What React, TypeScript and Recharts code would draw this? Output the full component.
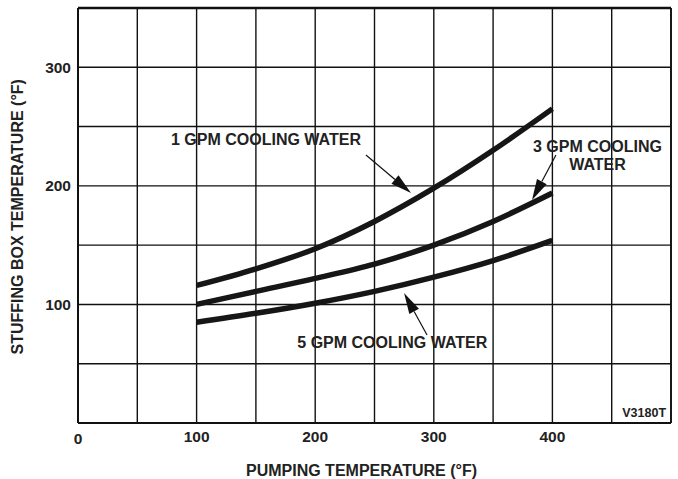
import React from 'react';
import { CartesianGrid, Line, LineChart, ReferenceDot, ReferenceLine, XAxis, YAxis } from 'recharts';

const pumpTemps = [100, 150, 200, 250, 300, 350, 400];
const gpm1 = [116, 130, 147, 170, 198, 230, 265];
const gpm3 = [100, 111, 122, 134, 150, 170, 194];
const gpm5 = [85, 92.5, 101, 111, 123, 137, 154];

const xTicks = [0, 50, 100, 150, 200, 250, 300, 350, 400, 450, 500];
const yTicks = [0, 50, 100, 150, 200, 250, 300, 350];
const xLabels = [0, 100, 200, 300, 400];
const yLabels = [100, 200, 300];

// annotation text anchors and arrows, in data units
const notes = [
  { x: 158.5, y: 238.7, lines: ['1 GPM COOLING WATER'] },
  { x: 438, y: 226, lines: ['3 GPM COOLING', 'WATER'] },
  { x: 265, y: 67.5, lines: ['5 GPM COOLING WATER'] },
];
const arrows = [
  { from: { x: 242.8, y: 226 }, to: { x: 280.8, y: 194 } },
  { from: { x: 403, y: 226 }, to: { x: 382.8, y: 188 } },
  { from: { x: 294.3, y: 74.2 }, to: { x: 274.9, y: 109.6 } },
];

const data = pumpTemps.map((t, i) => ({ t, gpm1: gpm1[i], gpm3: gpm3[i], gpm5: gpm5[i] }));

const font = '"Liberation Sans", Arial, sans-serif';

const XTick = (props: any) => {
  const { x, y, payload } = props;
  if (!xLabels.includes(payload.value)) return null;
  return (
    <text x={x} y={y + (payload.value === 0 ? 15 : 13.5)} textAnchor="middle" dominantBaseline="central"
      fontFamily={font} fontWeight="bold" fontSize={15.5} fill="#222">
      {payload.value}
    </text>
  );
};

const YTick = (props: any) => {
  const { x, y, payload } = props;
  if (!yLabels.includes(payload.value)) return null;
  return (
    <text x={x - 7} y={y} textAnchor="end" dominantBaseline="central"
      fontFamily={font} fontWeight="bold" fontSize={15.5} fill="#222">
      {payload.value}
    </text>
  );
};

const Arrow = (props: any) => {
  const { x1, y1, x2, y2 } = props;
  const dx = x2 - x1;
  const dy = y2 - y1;
  const len = Math.sqrt(dx * dx + dy * dy);
  const ux = dx / len;
  const uy = dy / len;
  const headLen = 21;
  const headHalf = 5.5;
  const bx = x2 - ux * headLen;
  const by = y2 - uy * headLen;
  const pts = `${x2},${y2} ${bx - uy * headHalf},${by + ux * headHalf} ${bx + uy * headHalf},${by - ux * headHalf}`;
  return (
    <g>
      <line x1={x1} y1={y1} x2={bx} y2={by} stroke="#111" strokeWidth={1.2} />
      <polygon points={pts} fill="#111" />
    </g>
  );
};

const makeNote = (lines: string[]) => (props: any) => {
  const { cx, cy } = props;
  const start = cy - ((lines.length - 1) * 18) / 2;
  return (
    <text textAnchor="middle" fontFamily={font} fontWeight="bold" fontSize={16} fill="#222">
      {lines.map((l, i) => (
        <tspan key={i} x={cx} y={start + i * 18} dominantBaseline="central">{l}</tspan>
      ))}
    </text>
  );
};

const Code = (props: any) => (
  <text x={props.cx} y={props.cy} textAnchor="end" dominantBaseline="central"
    fontFamily={font} fontWeight="bold" fontSize={12.5} fill="#222">
    V3180T
  </text>
);

const App = () => {
  return (
    <div style={{ width: 678, height: 479, background: '#fff' }}>
      <style>{'body{margin:0;background:#fff}'}</style>
      <LineChart width={678} height={479} data={data} margin={{ top: 8, right: 7, left: 18, bottom: 26 }}>
        <CartesianGrid stroke="#111" strokeWidth={1.4} strokeOpacity={1} />
        <XAxis
          dataKey="t"
          type="number"
          domain={[0, 500]}
          ticks={xTicks}
          height={30}
          tickLine={false}
          tickSize={0}
          tickMargin={0}
          axisLine={{ stroke: '#111', strokeWidth: 2 }}
          tick={<XTick />}
          label={{ value: 'PUMPING TEMPERATURE (°F)', position: 'insideBottom', dy: 28, dx: -13, fontFamily: font, fontWeight: 'bold', fontSize: 16, fill: '#222' }}
        />
        <YAxis
          type="number"
          domain={[0, 350]}
          ticks={yTicks}
          width={60}
          tickLine={false}
          tickSize={0}
          tickMargin={0}
          axisLine={{ stroke: '#111', strokeWidth: 2 }}
          tick={<YTick />}
          label={{ value: 'STUFFING BOX TEMPERATURE (°F)', angle: -90, position: 'insideLeft', dx: -6, dy: 139, fontFamily: font, fontWeight: 'bold', fontSize: 16, fill: '#222' }}
        />
        <ReferenceLine y={350} stroke="#111" strokeWidth={2.5} />
        <ReferenceLine x={500} stroke="#111" strokeWidth={1.8} />
        <Line type="monotone" dataKey="gpm1" stroke="#161616" strokeWidth={5.5} dot={false} isAnimationActive={false} />
        <Line type="monotone" dataKey="gpm3" stroke="#161616" strokeWidth={5.5} dot={false} isAnimationActive={false} />
        <Line type="monotone" dataKey="gpm5" stroke="#161616" strokeWidth={5.5} dot={false} isAnimationActive={false} />
        {arrows.map((a, i) => (
          <ReferenceLine key={`a${i}`} segment={[a.from, a.to]} ifOverflow="visible" shape={<Arrow />} />
        ))}
        {notes.map((n, i) => (
          <ReferenceDot key={`n${i}`} x={n.x} y={n.y} r={0} ifOverflow="visible" shape={makeNote(n.lines)} />
        ))}
        <ReferenceDot x={495.8} y={8.4} r={0} ifOverflow="visible" shape={<Code />} />
      </LineChart>
    </div>
  );
};

export default App;
